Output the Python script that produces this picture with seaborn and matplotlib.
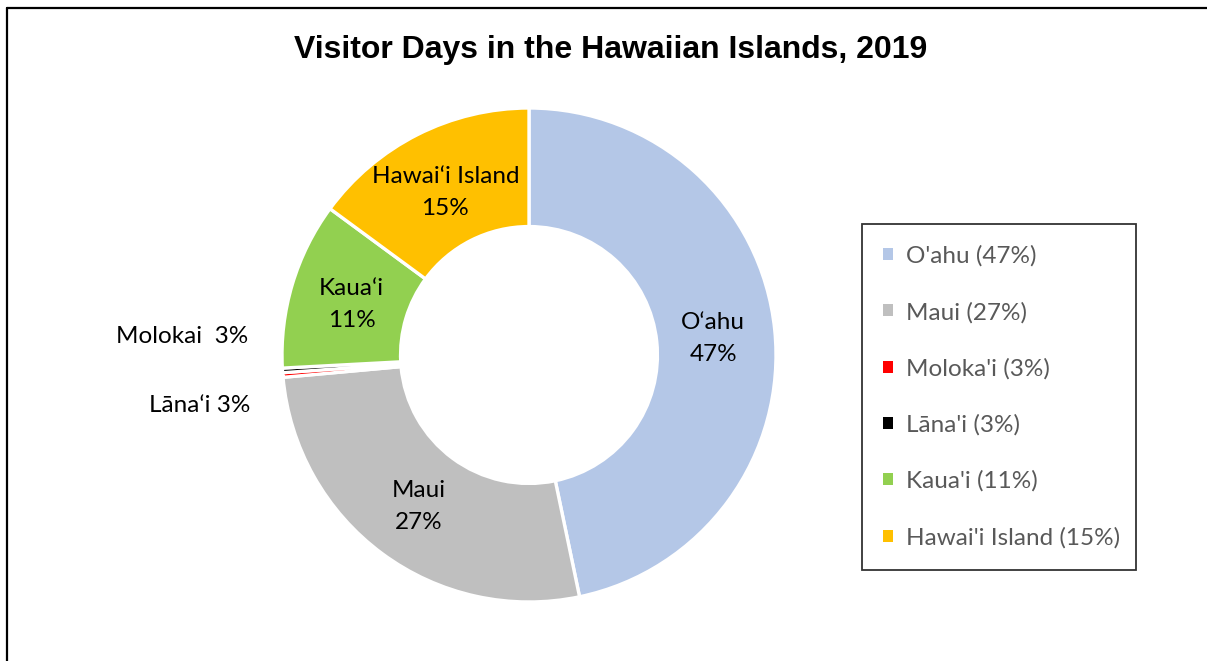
import matplotlib
matplotlib.use("Agg")
import matplotlib.pyplot as plt
from matplotlib.lines import Line2D
import numpy as np
import seaborn as sns

# Visitor-day shares by island (percent of total), clockwise from 12 o'clock
islands = ["O‘ahu", "Maui", "Molokai", "Lāna‘i", "Kaua‘i", "Hawai‘i Island"]
shares = [47, 27, 0.3, 0.3, 11, 15]
slice_labels = ["O‘ahu\n47%", "Maui\n27%", "", "", "Kaua‘i\n11%", "Hawai‘i Island\n15%"]
legend_labels = ["O'ahu (47%)", "Maui (27%)", "Moloka'i (3%)", "Lāna'i (3%)",
                 "Kaua'i (11%)", "Hawai'i Island (15%)"]
side_labels = ["Molokai  3%", "Lāna‘i 3%"]
colors = ["#B4C7E7", "#BFBFBF", "#FF0000", "#000000", "#92D050", "#FFC000"]

sns.set_theme(style="white")
palette = sns.color_palette(colors)
plt.rcParams["font.family"] = ["Lato", "DejaVu Sans"]

W, H = 1207, 661
fig = plt.figure(figsize=(W / 100, H / 100), dpi=100)
fig.patch.set_facecolor("white")

# pie centre and outer radius in pixels
cx, cy, R = 529, 355, 247
ax = fig.add_axes([(cx - R) / W, (H - cy - R) / H, 2 * R / W, 2 * R / H])

wedges, _ = ax.pie(
    shares, colors=palette, startangle=90, counterclock=False,
    wedgeprops=dict(width=0.48, edgecolor="white", linewidth=2.4),
)
ax.set_xlim(-1, 1)
ax.set_ylim(-1, 1)
ax.set_aspect("equal")
ax.axis("off")

label_size = 17.5
for w, lab in zip(wedges, slice_labels):
    if not lab:
        continue
    mid = np.deg2rad((w.theta1 + w.theta2) / 2)
    r = 0.75
    ax.text(r * np.cos(mid), r * np.sin(mid) - 0.01, lab, ha="center", va="center",
            fontsize=label_size, color="black", linespacing=1.65)

ax.text(-1.138, 0.073, side_labels[0], ha="right", va="center",
        fontsize=label_size, color="black", clip_on=False)
ax.text(-1.13, -0.205, side_labels[1], ha="right", va="center",
        fontsize=label_size, color="black", clip_on=False)

leg = fig.legend(
    wedges, legend_labels, loc="upper left",
    bbox_to_anchor=(862 / W, 1 - 224 / H, (1136 - 862) / W, 0), mode="expand",
    frameon=True, fancybox=False, edgecolor="black", fontsize=17.5,
    handlelength=0.38, handleheight=0.38, handletextpad=0.55,
    labelspacing=1.43, borderpad=0.88, borderaxespad=0,
)
leg.get_frame().set_linewidth(1.3)
for t in leg.get_texts():
    t.set_color("#595959")
for h in leg.legend_handles:
    h.set_edgecolor("none")

fig.text(0.506, 1 - 50 / H, "Visitor Days in the Hawaiian Islands, 2019",
         ha="center", va="center", fontsize=23, fontweight="bold",
         family=["Liberation Sans", "DejaVu Sans"], color="black")

# outer chart-area border (left and top edges)
fig.add_artist(Line2D([6.5 / W, 6.5 / W], [0, 1 - 7.5 / H], color="black",
                      linewidth=1.6, transform=fig.transFigure))
fig.add_artist(Line2D([6.5 / W, 1], [1 - 7.5 / H, 1 - 7.5 / H], color="black",
                      linewidth=1.6, transform=fig.transFigure))

fig.savefig("out.png", dpi=100, facecolor="white")
